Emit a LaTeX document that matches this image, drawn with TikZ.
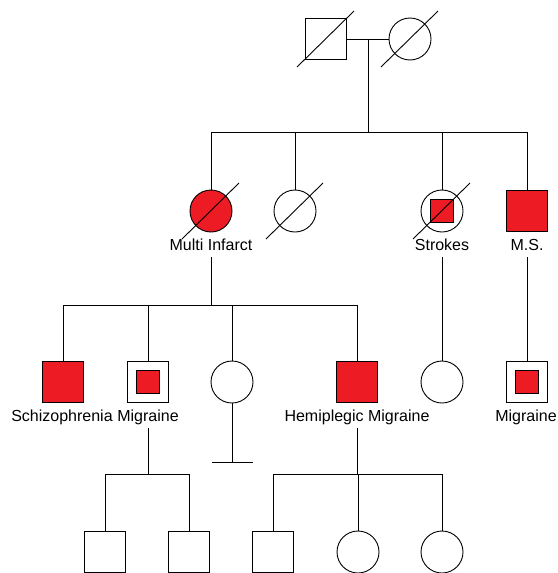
\documentclass[tikz,border=0pt]{standalone}
\usepackage{fontspec}
\setmainfont{Liberation Sans}
\definecolor{pedred}{RGB}{237,28,36}
\tikzset{
  male/.style={draw, rectangle, minimum size=41, inner sep=0pt},
  female/.style={draw, circle, minimum size=42, inner sep=0pt},
  hit/.style={fill=pedred},
  spot/.style={path picture={\draw[fill=pedred]
      ([shift={(-11.5,-11.5)}]path picture bounding box.center) rectangle
      ([shift={(11.5,11.5)}]path picture bounding box.center);}},
  lbl/.style={font=\fontsize{16}{19}\selectfont, inner sep=0pt,
      text depth=0pt, outer ysep=7pt, anchor=base}
}
\begin{document}
\begin{tikzpicture}[x=1pt, y=-1pt, line width=0.9pt]
      \useasboundingbox (0,0) rectangle (557,573);
      % generation I
      \draw
        (326,39) node[male] (a1){}
        (410,39) node[female] (a2){};
      % generation II
      \draw
        (211,211) node[female,hit] (b1){}
        (295,211) node[female] (b2){}
        (442,211) node[female,spot] (b3){}
        (527,211) node[male,hit] (b4){}
        (211,250) node[lbl] (lb1){Multi Infarct}
        (442,250) node[lbl] (lb3){Strokes}
        (527,250) node[lbl] (lb4){M.S.};
      % generation III
      \draw
        (63,382) node[male,hit] (c1){}
        (148,382) node[male,spot] (c2){}
        (232,382) node[female] (c3){}
        (357,382) node[male,hit] (c4){}
        (442,382) node[female] (c5){}
        (527,382) node[male,spot] (c6){}
        (62,421) node[lbl] (lc1){Schizophrenia}
        (148,421) node[lbl] (lc2){Migraine}
        (357,421) node[lbl] (lc4){Hemiplegic Migraine}
        (526,421) node[lbl] (lc6){Migraine};
      % generation IV
      \draw
        (105,552) node[male] (d1){}
        (189,552) node[male] (d2){}
        (273,552) node[male] (d3){}
        (358,552) node[female] (d4){}
        (442,552) node[female] (d5){};
      \coordinate (m1) at (368,39);
      \coordinate (s1) at (368,132);
      \coordinate (s2) at (211,305);
      \coordinate (s3) at (148,474);
      \coordinate (s4) at (357,474);
      \coordinate (tb) at (232,462);
      \begin{scope}[-]
        \draw (a1) -- (a2);
        \draw (m1) -- (s1);
        \draw (s1) -| (b1);
        \draw (s1) -| (b2);
        \draw (s1) -| (b3);
        \draw (s1) -| (b4);
        \draw (lb1.south) -- (s2);
        \draw (s2) -| (c1);
        \draw (s2) -| (c2);
        \draw (s2) -| (c3);
        \draw (s2) -| (c4);
        \draw (lb3.south) -- (c5);
        \draw (lb4.south) -- (c6);
        \draw (lc2.south) -- (s3);
        \draw (s3) -| (d1);
        \draw (s3) -| (d2);
        \draw (c3) -- (tb);
        \draw ([xshift=-20]tb) -- ([xshift=21]tb);
        \draw (lc4.south) -- (s4);
        \draw (s4) -| (d3);
        \draw (s4) -| (d4);
        \draw (s4) -| (d5);
      \end{scope}
      % deceased
      \foreach \n in {a1,a2,b1,b2,b3}
        \draw ([shift={(-29,28)}]\n.center) -- ([shift={(28,-28)}]\n.center);
    \end{tikzpicture}
\end{document}
